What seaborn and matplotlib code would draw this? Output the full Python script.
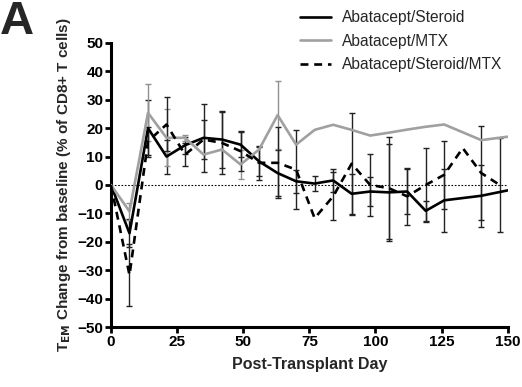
import matplotlib
matplotlib.use("Agg")
import matplotlib.pyplot as plt
from matplotlib.lines import Line2D
import seaborn as sns
import pandas as pd

# ---- data ----
days_steroid = [0, 7, 14, 21, 28, 35, 42, 49, 56, 63, 70, 77, 84, 91, 98, 105, 112, 119, 126, 140, 150]
mean_steroid = [0, -17, 20, 10, 14, 16.6, 16, 14.2, 8.3, 4.2, 1.3, 0.5, 1.6, -3.1, -2.3, -2.6, -2.3, -9.1, -5.4, -3.8, -1.9]
err_steroid = [0, 5, 10, 6, 3, 12, 10, 4.5, 5, 8, 4, 2.5, 4, 7, 5, 17, 8, 3.5, 11, 11, 0]

days_mtx = [0, 7, 14, 21, 28, 35, 42, 49, 56, 63, 70, 77, 84, 91, 98, 105, 112, 119, 126, 140, 150]
mean_mtx = [0, -9.3, 25.4, 16.6, 16.6, 10.7, 12.5, 7.2, 12.5, 24.6, 14.2, 19.4, 21.2, 19.4, 17.4, 18.4, 19.5, 20.5, 21.3, 15.8, 17]
err_mtx = [0, 3, 10, 10, 1, 0, 0, 5, 0, 12, 0, 0, 0, 0, 0, 0, 0, 0, 0, 0, 0]

days_both = [0, 7, 14, 21, 28, 35, 42, 49, 56, 63, 70, 77, 84, 91, 98, 105, 112, 119, 126, 133, 140, 147]
mean_both = [0, -31.7, 15.4, 21.3, 10.7, 16, 14.8, 11.9, 7.8, 7.8, 5.4, -11.7, -4, 7.5, 0, -1.1, -4, 0, 3.6, 13, 4.2, 0]
err_both = [0, 11, 5, 9.5, 4, 7, 11, 7, 6, 12.5, 14, 0, 8.5, 18, 11, 18, 10, 13, 12, 0, 16.5, 16.5]

labels = ["Abatacept/Steroid", "Abatacept/MTX", "Abatacept/Steroid/MTX"]

df = pd.concat([
    pd.DataFrame({"day": days_steroid, "val": mean_steroid, "err": err_steroid, "grp": labels[0]}),
    pd.DataFrame({"day": days_mtx, "val": mean_mtx, "err": err_mtx, "grp": labels[1]}),
    pd.DataFrame({"day": days_both, "val": mean_both, "err": err_both, "grp": labels[2]}),
])

sns.set_theme(style="ticks")
plt.rcParams["font.family"] = ["Liberation Sans", "DejaVu Sans"]

fig = plt.figure(figsize=(5.22, 3.87), dpi=100)
ax = fig.add_axes([0.2126, 0.155, 0.76, 0.734])

colors = {labels[0]: "black", labels[1]: "#a0a0a0", labels[2]: "black"}

# error bars
for g in labels:
    sub = df[(df.grp == g) & (df.err > 0)]
    ax.errorbar(sub.day, sub.val, yerr=sub.err, fmt="none",
                ecolor="#909090" if g == labels[1] else "#222222",
                elinewidth=1.0, capsize=2.5, capthick=1.0, zorder=2)

sns.lineplot(data=df, x="day", y="val", hue="grp", style="grp",
             palette=colors, dashes={labels[0]: "", labels[1]: "", labels[2]: (3, 2.2)},
             linewidth=1.9, ax=ax, legend=False, zorder=3, estimator=None)

ax.axhline(0, color="black", lw=0.8, ls=(0, (1.5, 1.5)), zorder=1)

ax.set_xlim(0, 150)
ax.set_ylim(-50, 50)
ax.set_xticks([0, 25, 50, 75, 100, 125, 150])
ax.set_yticks(range(-50, 51, 10))
for s in ["top", "right"]:
    ax.spines[s].set_visible(False)
for s in ["left", "bottom"]:
    ax.spines[s].set_linewidth(2.2)
    ax.spines[s].set_color("black")
ax.tick_params(axis="both", width=2, length=4, direction="out", labelsize=11, colors="black", pad=1.5)
for lab in ax.get_xticklabels() + ax.get_yticklabels():
    lab.set_fontweight("bold")

ax.set_xlabel("Post-Transplant Day", fontsize=11.5, fontweight="bold", labelpad=6)
ax.set_ylabel(r"T$_{\mathbf{EM}}$ Change from baseline (% of CD8+ T cells)", fontsize=11, fontweight="bold", labelpad=3)

handles = [Line2D([], [], color="black", lw=1.9),
           Line2D([], [], color="#a0a0a0", lw=1.9),
           Line2D([], [], color="black", lw=1.9, dashes=(3, 2.2))]
fig.legend(handles, labels, loc="upper left", bbox_to_anchor=(0.572, 0.978),
           frameon=False, fontsize=11.2, handlelength=2.0, handletextpad=0.7,
           labelspacing=0.55, borderaxespad=0, borderpad=0.1)

fig.text(0.0, 1.0, "A", fontsize=34, fontweight="bold", va="top", ha="left")

fig.savefig("out.png", dpi=100)
